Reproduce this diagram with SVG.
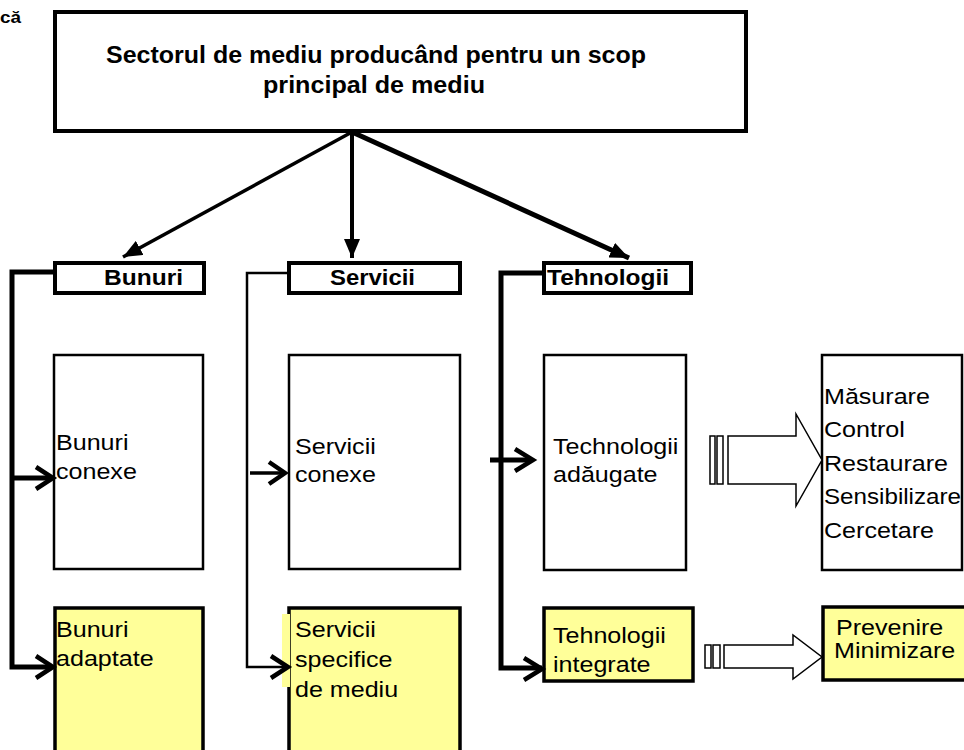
<svg xmlns="http://www.w3.org/2000/svg" width="964" height="750" viewBox="0 0 964 750">
<defs>
<style>
.b{font-family:"Liberation Sans",Arial,sans-serif;font-weight:bold;font-size:22px;fill:#000}
.t{font-size:23px}
.r{font-family:"Liberation Sans",Arial,sans-serif;font-size:22px;fill:#000}
.box{fill:#fff;stroke:#000;stroke-width:4}
.mid{fill:#fff;stroke:#000;stroke-width:2.5}
.yel{fill:#ffff99;stroke:#000;stroke-width:3.5}
.thick{fill:none;stroke:#000;stroke-width:5}
.thin{fill:none;stroke:#000;stroke-width:2.5}
.chev{fill:none;stroke:#000;stroke-width:4.5}
.blk{fill:#fff;stroke:#000;stroke-width:1.5}
</style>
<marker id="tri" markerUnits="userSpaceOnUse" markerWidth="20" markerHeight="16" refX="19" refY="8" orient="auto">
<path d="M0,0 L19,8 L0,16 z" fill="#000"/>
</marker>
</defs>
<rect width="964" height="750" fill="#fff"/>

<text class="b" style="font-size:16px" x="0" y="23" textLength="21" lengthAdjust="spacingAndGlyphs">că</text>

<g id="top">
<rect class="box" x="55" y="12" width="691" height="119"/>
<text class="b t" x="376" y="63" text-anchor="middle" textLength="540" lengthAdjust="spacingAndGlyphs">Sectorul de mediu producând pentru un scop</text>
<text class="b t" x="374" y="93" text-anchor="middle" textLength="222" lengthAdjust="spacingAndGlyphs">principal de mediu</text>
</g>

<g id="bunuri">
<rect class="box" x="55" y="263" width="149" height="30"/>
<text class="b" x="104" y="285" textLength="79" lengthAdjust="spacingAndGlyphs">Bunuri</text>
</g>
<g id="servicii">
<rect class="box" x="289" y="263" width="171" height="30"/>
<text class="b" x="330" y="285" textLength="85" lengthAdjust="spacingAndGlyphs">Servicii</text>
</g>
<g id="tehnologii">
<rect class="box" x="544" y="263" width="147" height="30"/>
<text class="b" x="547" y="285" textLength="122" lengthAdjust="spacingAndGlyphs">Tehnologii</text>
</g>

<g id="bunuri-conexe">
<rect class="mid" x="54" y="355" width="149" height="214"/>
<text class="r" transform="translate(56,450) scale(1.14 1)">Bunuri</text>
<text class="r" transform="translate(56,479) scale(1.14 1)">conexe</text>
</g>
<g id="servicii-conexe">
<rect class="mid" x="289" y="355" width="171" height="214"/>
<text class="r" transform="translate(295,454) scale(1.14 1)">Servicii</text>
<text class="r" transform="translate(295,482) scale(1.14 1)">conexe</text>
</g>
<g id="tehnologii-adaugate">
<rect class="mid" x="544" y="355" width="142" height="215"/>
<text class="r" transform="translate(553,454) scale(1.14 1)">Technologii</text>
<text class="r" transform="translate(553,482) scale(1.14 1)">adăugate</text>
</g>
<g id="masurare">
<rect class="mid" x="822" y="355" width="140" height="215"/>
<text class="r" transform="translate(824,404) scale(1.14 1)">Măsurare</text>
<text class="r" transform="translate(824,437) scale(1.14 1)"> Control</text>
<text class="r" transform="translate(824,471) scale(1.14 1)">Restaurare</text>
<text class="r" x="824" y="504" textLength="137" lengthAdjust="spacingAndGlyphs">Sensibilizare</text>
<text class="r" transform="translate(824,538) scale(1.14 1)">Cercetare</text>
</g>

<g id="bunuri-adaptate">
<rect class="yel" x="55" y="608" width="148" height="150"/>
<text class="r" transform="translate(56,637) scale(1.14 1)">Bunuri</text>
<text class="r" transform="translate(56,666) scale(1.14 1)">adaptate</text>
</g>
<g id="servicii-specifice">
<rect class="yel" x="289" y="608" width="171" height="150"/>
<rect x="282" y="614" width="8" height="73" fill="#ffff99"/>
<text class="r" transform="translate(295,637) scale(1.14 1)">Servicii</text>
<text class="r" transform="translate(295,667) scale(1.14 1)">specifice</text>
<text class="r" transform="translate(295,697) scale(1.14 1)">de mediu</text>
</g>
<g id="tehnologii-integrate">
<rect class="yel" x="544" y="608" width="149" height="73"/>
<text class="r" transform="translate(553,643) scale(1.14 1)">Tehnologii</text>
<text class="r" transform="translate(553,672) scale(1.14 1)">integrate</text>
</g>
<g id="prevenire">
<rect class="yel" x="823" y="607" width="150" height="73"/>
<text class="r" transform="translate(836,635) scale(1.14 1)">Prevenire</text>
<text class="r" transform="translate(834,658) scale(1.14 1)">Minimizare</text>
</g>

<g id="connectors">
<line x1="352" y1="132" x2="123" y2="257" stroke="#000" stroke-width="3.5" marker-end="url(#tri)"/>
<line x1="352" y1="132" x2="352" y2="258" stroke="#000" stroke-width="4" marker-end="url(#tri)"/>
<line x1="352" y1="132" x2="629" y2="258" stroke="#000" stroke-width="5" marker-end="url(#tri)"/>

<path class="thick" d="M55,272 H12 V667 H52"/>
<path class="thick" d="M12,478 H52"/>
<polyline class="chev" points="36,467 53,478 36,489"/>
<polyline class="chev" points="36,656 53,667 36,678"/>

<path class="thin" d="M289,273 H247 V667 H287"/>
<path class="thick" style="stroke-width:3.5" d="M250,473 H284"/>
<polyline class="chev" points="269,462 285,473 269,484"/>
<polyline class="chev" points="271,656 288,667 271,678"/>

<path class="thick" d="M544,273 H501 V668 H542"/>
<path class="thick" d="M490,460 H531"/>
<polyline class="chev" points="515,449 533,460 515,471"/>
<polyline class="chev" points="524,658 542,669 524,680"/>

<rect class="blk" x="710" y="436" width="5" height="48"/>
<rect class="blk" x="717" y="436" width="6" height="48"/>
<polygon class="blk" points="728,436 796,436 796,414 822,460 796,506 796,484 728,484"/>

<rect class="blk" x="705" y="645" width="6" height="23"/>
<rect class="blk" x="713" y="645" width="7" height="23"/>
<polygon class="blk" points="724,645 793,645 793,635 822,657 793,679 793,668 724,668"/>
</g>
</svg>
